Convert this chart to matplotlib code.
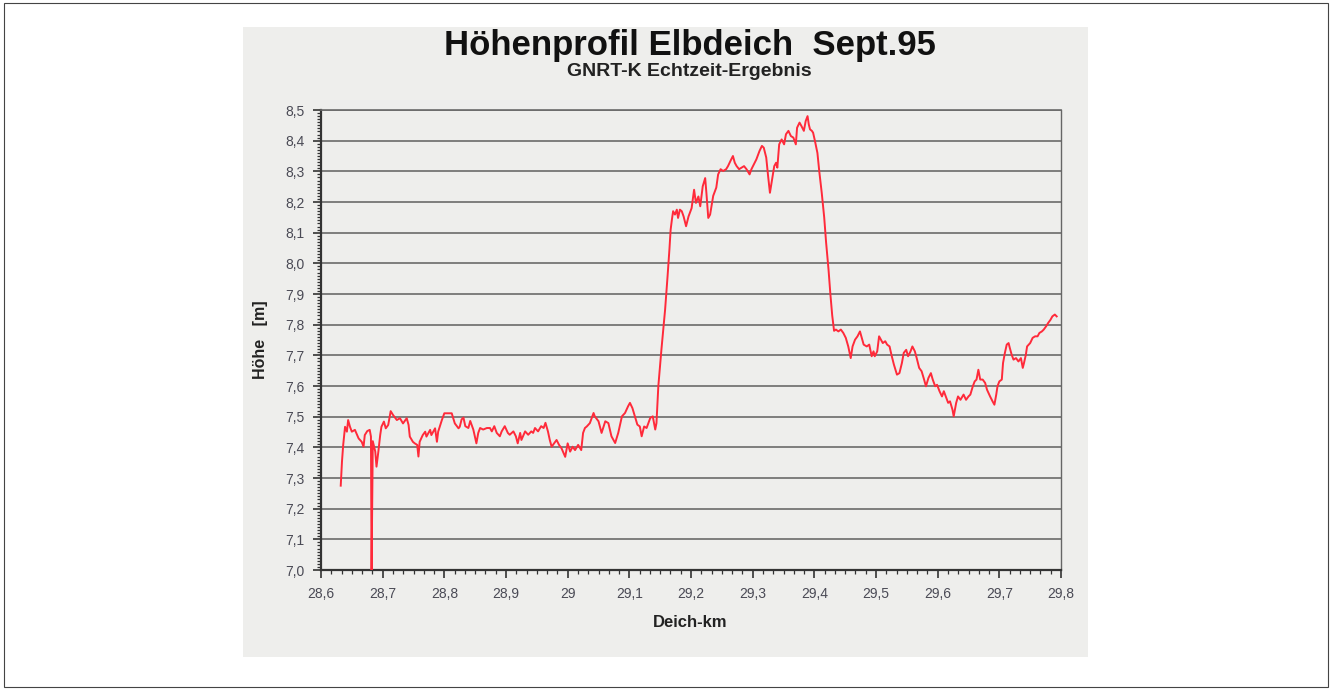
import matplotlib
matplotlib.use("Agg")
import matplotlib.pyplot as plt
from matplotlib.ticker import MultipleLocator, AutoMinorLocator, FuncFormatter
from matplotlib.patches import Rectangle

plt.rcParams['font.family'] = ['Liberation Sans', 'DejaVu Sans']

# Deich-km / Höhe [m]
km = [
    28.632, 28.634, 28.636, 28.639, 28.642, 28.644, 28.647, 28.650, 28.655, 28.661,
    28.666, 28.669, 28.671, 28.675, 28.679, 28.681, 28.682, 28.684, 28.688, 28.690,
    28.693, 28.696, 28.698, 28.702, 28.705, 28.709, 28.713, 28.717, 28.723, 28.728,
    28.733, 28.739, 28.742, 28.744, 28.749, 28.752, 28.756, 28.758, 28.760, 28.765,
    28.769, 28.771, 28.777, 28.779, 28.785, 28.788, 28.790, 28.796, 28.800, 28.806,
    28.812, 28.817, 28.823, 28.825,
    28.828, 28.831, 28.834, 28.839, 28.842, 28.847, 28.852, 28.855, 28.858, 28.863,
    28.869, 28.874, 28.877, 28.881, 28.885, 28.890, 28.893, 28.898, 28.903, 28.906,
    28.912, 28.916, 28.919, 28.923, 28.925, 28.931, 28.936, 28.941, 28.944, 28.947,
    28.952, 28.957, 28.961, 28.964, 28.968, 28.971, 28.974, 28.978, 28.982, 28.986,
    28.990, 28.996, 29.000, 29.004, 29.008, 29.012, 29.017, 29.022, 29.025, 29.028,
    29.031, 29.036, 29.042, 29.044, 29.050, 29.055, 29.061, 29.066, 29.071, 29.077,
    29.082, 29.088, 29.093, 29.098, 29.101, 29.105, 29.109, 29.113, 29.117, 29.120,
    29.124, 29.128, 29.134, 29.138, 29.142, 29.144, 29.147, 29.152, 29.158, 29.162,
    29.165, 29.167, 29.169, 29.171, 29.174, 29.177, 29.179, 29.182, 29.185, 29.188,
    29.192, 29.196, 29.201, 29.205, 29.208, 29.212, 29.215, 29.219, 29.223, 29.225,
    29.228, 29.231,
    29.236, 29.241, 29.244, 29.248, 29.252, 29.257, 29.260, 29.264, 29.268, 29.271,
    29.274, 29.278, 29.282, 29.286, 29.290, 29.295, 29.298, 29.302, 29.306, 29.311,
    29.315, 29.318, 29.322, 29.325, 29.328, 29.331, 29.335, 29.338, 29.340, 29.343,
    29.347, 29.351, 29.354, 29.358, 29.362, 29.366, 29.370, 29.372, 29.376, 29.379,
    29.383, 29.386, 29.389, 29.391, 29.393, 29.396, 29.398, 29.401, 29.405, 29.408,
    29.412, 29.416, 29.419, 29.423, 29.426, 29.429, 29.432,
    29.435, 29.439, 29.443, 29.447, 29.451, 29.455, 29.459, 29.462, 29.466, 29.470,
    29.474, 29.477, 29.480, 29.485, 29.489, 29.493, 29.496, 29.498, 29.502, 29.505,
    29.508, 29.511, 29.515, 29.518, 29.522, 29.525, 29.529, 29.534, 29.538, 29.542,
    29.545, 29.549, 29.552, 29.556, 29.559, 29.563, 29.566, 29.570, 29.574, 29.578,
    29.581, 29.585, 29.589, 29.592, 29.596, 29.599, 29.603, 29.607, 29.610, 29.614,
    29.617, 29.620,
    29.624, 29.626, 29.630, 29.633, 29.637, 29.642, 29.646, 29.650, 29.653, 29.657,
    29.660, 29.663, 29.666, 29.669, 29.673, 29.677, 29.680, 29.685, 29.689, 29.692,
    29.695, 29.697, 29.700, 29.704, 29.706, 29.709, 29.712, 29.715, 29.717, 29.720,
    29.723, 29.727, 29.731, 29.735, 29.738, 29.740, 29.743, 29.745, 29.750, 29.754,
    29.758, 29.762, 29.765, 29.769, 29.772, 29.776, 29.779, 29.783, 29.786, 29.790,
    29.793,
]
hoehe = [
    7.275, 7.353, 7.408, 7.467, 7.451, 7.489, 7.467, 7.451, 7.457, 7.429,
    7.418, 7.402, 7.440, 7.453, 7.457, 7.435, 7.000, 7.420, 7.386, 7.337,
    7.386, 7.440, 7.467, 7.484, 7.462, 7.473, 7.518, 7.505, 7.489, 7.495,
    7.478, 7.495, 7.473, 7.435, 7.418, 7.413, 7.408, 7.370, 7.418, 7.440,
    7.451, 7.435, 7.457, 7.440, 7.462, 7.418, 7.451, 7.489, 7.511, 7.511,
    7.511, 7.478, 7.462, 7.467,
    7.491, 7.497, 7.469, 7.463, 7.486, 7.458, 7.413, 7.447, 7.463, 7.458,
    7.463, 7.463, 7.452, 7.469, 7.447, 7.436, 7.452, 7.469, 7.447, 7.441,
    7.452, 7.436, 7.413, 7.447, 7.424, 7.452, 7.441, 7.452, 7.447, 7.463,
    7.452, 7.469, 7.463, 7.480, 7.452, 7.424, 7.402, 7.413, 7.424, 7.408,
    7.397, 7.369, 7.413, 7.386, 7.402, 7.391, 7.408, 7.391, 7.447, 7.463,
    7.468, 7.479, 7.512, 7.501, 7.485, 7.447, 7.485, 7.479, 7.436, 7.414,
    7.447, 7.501, 7.512, 7.534, 7.545, 7.528, 7.501, 7.474, 7.468, 7.436,
    7.468, 7.463, 7.496, 7.501, 7.458, 7.479, 7.599, 7.718, 7.849, 7.958,
    8.045, 8.110, 8.142, 8.170, 8.159, 8.175, 8.148, 8.175, 8.170, 8.153,
    8.121, 8.153, 8.180, 8.240, 8.197, 8.218, 8.186, 8.251, 8.278, 8.229,
    8.148, 8.159,
    8.220, 8.247, 8.290, 8.307, 8.301, 8.307, 8.317, 8.334, 8.350, 8.328,
    8.317, 8.307, 8.312, 8.317, 8.307, 8.290, 8.307, 8.323, 8.339, 8.366,
    8.383, 8.377, 8.345, 8.285, 8.230, 8.268, 8.317, 8.328, 8.312, 8.388,
    8.404, 8.388, 8.421, 8.432, 8.415, 8.410, 8.388, 8.442, 8.459, 8.448,
    8.432, 8.464, 8.480, 8.453, 8.437, 8.432, 8.426, 8.399, 8.360, 8.300,
    8.230, 8.150, 8.070, 7.980, 7.900, 7.830, 7.780,
    7.784, 7.778, 7.784, 7.773, 7.757, 7.729, 7.691, 7.729, 7.751, 7.762,
    7.778, 7.757, 7.735, 7.729, 7.735, 7.697, 7.713, 7.697, 7.713, 7.762,
    7.751, 7.740, 7.746, 7.735, 7.729, 7.702, 7.670, 7.637, 7.642, 7.675,
    7.708, 7.718, 7.697, 7.713, 7.729, 7.713, 7.691, 7.659, 7.648, 7.621,
    7.599, 7.626, 7.642, 7.621, 7.599, 7.604, 7.583, 7.566, 7.583, 7.561,
    7.545, 7.550,
    7.523, 7.501, 7.545, 7.566, 7.555, 7.572, 7.555, 7.566, 7.572, 7.599,
    7.615, 7.621, 7.653, 7.621, 7.621, 7.610, 7.588, 7.566, 7.550, 7.539,
    7.572, 7.599, 7.615, 7.621, 7.675, 7.708, 7.735, 7.740, 7.724, 7.702,
    7.686, 7.691, 7.680, 7.691, 7.659, 7.675, 7.702, 7.729, 7.740, 7.757,
    7.762, 7.762, 7.773, 7.778, 7.784, 7.795, 7.805, 7.816, 7.827, 7.833,
    7.827,
]

x_min, x_max = 28.6, 29.8
y_min, y_max = 7.0, 8.5

fig = plt.figure(figsize=(13.32, 6.9), dpi=100)
fig.patch.set_facecolor("white")

# Rahmen und eingescanntes Blatt
fig.patches.append(Rectangle((0.003, 0.004), 0.994, 0.991, transform=fig.transFigure,
                             fill=False, edgecolor="#444444", linewidth=0.8, zorder=-2))
fig.patches.append(Rectangle((243 / 1332, 1 - 657 / 690), 845 / 1332, 630 / 690,
                             transform=fig.transFigure, facecolor="#eeeeec",
                             edgecolor="none", zorder=-1))

ax = fig.add_axes([321 / 1332, 1 - 570 / 690, 740 / 1332, 460 / 690])
ax.set_zorder(2)
ax.set_facecolor("none")
ax.plot(km, hoehe, color="#ff2a3a", linewidth=1.4, zorder=3)

ax.set_xlim(x_min, x_max)
ax.set_ylim(y_min, y_max)

ax.yaxis.set_major_locator(MultipleLocator(0.1))
ax.yaxis.set_minor_locator(MultipleLocator(0.01))
ax.xaxis.set_major_locator(MultipleLocator(0.1))
ax.xaxis.set_minor_locator(AutoMinorLocator(6))
ax.yaxis.set_major_formatter(FuncFormatter(lambda v, p: f"{v:.1f}".replace(".", ",")))
ax.xaxis.set_major_formatter(FuncFormatter(lambda v, p: format(round(v, 1), "g").replace(".", ",")))

ax.grid(True, axis="y", which="major", color="#6a6a6a", linewidth=1.2)
ax.set_axisbelow(True)

ax.tick_params(axis="both", which="major", length=6, width=1.2, color="#333333",
               labelsize=10, labelcolor="#4a4a55", pad=6)
ax.tick_params(axis="both", which="minor", length=3, width=0.9, color="#333333")

for side in ("left", "bottom"):
    ax.spines[side].set_color("#333333")
    ax.spines[side].set_linewidth(1.6)
ax.spines["right"].set_color("#666666")
ax.spines["right"].set_linewidth(1.0)
ax.spines["top"].set_color("#6a6a6a")
ax.spines["top"].set_linewidth(1.2)

ax.set_ylabel("Höhe   [m]", fontsize=11.5, fontweight="bold", color="#222222")
ax.yaxis.set_label_coords(-0.072, 0.5)
ax.set_xlabel("Deich-km", fontsize=12, fontweight="bold", color="#222222")
ax.xaxis.set_label_coords(0.4986, -0.098)

fig.text(690 / 1332, 1 - 46 / 690, "Höhenprofil Elbdeich  Sept.95", ha="center", va="center",
         fontsize=25, fontweight="bold", color="#111111")
fig.text(689 / 1332, 1 - 72 / 690, "GNRT-K Echtzeit-Ergebnis", ha="center", va="center",
         fontsize=14, fontweight="bold", color="#222222")

fig.savefig("out.png", dpi=100)
